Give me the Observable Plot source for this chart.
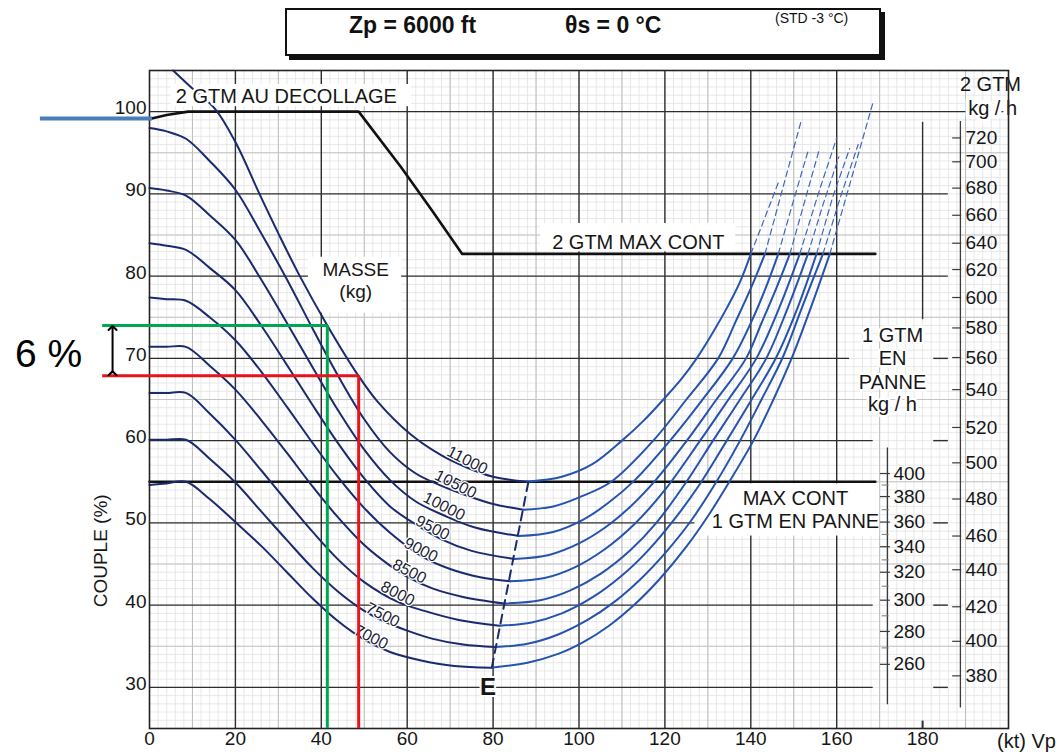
<!DOCTYPE html>
<html>
<head>
<meta charset="utf-8">
<script src="https://cdn.jsdelivr.net/npm/d3@7"></script>
<script src="https://cdn.jsdelivr.net/npm/@observablehq/plot@0.6"></script>
<style>
  html,body{margin:0;padding:0;background:#fff;}
  #wrap{position:relative;width:1059px;height:754px;overflow:hidden;font-family:"Liberation Sans",Arial,Helvetica,sans-serif;color:#111;}
  #chart{position:absolute;left:0;top:0;}
  #title{position:absolute;left:285px;top:8px;width:592px;height:44px;border:2px solid #111;box-shadow:4px 4px 0 #111;background:#fff;}
  #title span{position:absolute;white-space:nowrap;}
  .t1{left:62px;top:2px;font-size:23px;font-weight:bold;}
  .t2{left:278px;top:2px;font-size:23px;font-weight:bold;}
  .t3{left:488px;top:0px;font-size:14px;}
</style>
</head>
<body>
<div id="wrap">
  <div id="chart"></div>
  <div id="title"><span class="t1">Zp = 6000 ft</span><span class="t2">θs = 0 °C</span><span class="t3">(STD -3 °C)</span></div>
</div>
<script>
// ---------- data ----------
const xTicks = [0, 20, 40, 60, 80, 100, 120, 140, 160, 180];
const yTicks = [30, 40, 50, 60, 70, 80, 90, 100];
const masses = [7000, 7500, 8000, 8500, 9000, 9500, 10000, 10500, 11000];

// torque (%) vs true airspeed (kt), one array per mass (kg)
const curve7000 = [[0,54.6],[4,54.8],[8.5,55.0],[14,52.9],[20,50.1],[26,47.2],[32,44.0],[38,40.8],[44,38.0],[50,35.8],[56,34.3],[63,33.3],[71,32.6],[79.5,32.4],[88,33.0],[95.3,34.1],[101,35.5],[107,37.5],[113,40.1],[119,43.3],[125,47.1],[130,50.8],[135,55],[140.6,60],[145,64.7],[149.5,70],[154,76.2],[158.4,82.7]];
const curve7500 = [[0,60.1],[4,60.1],[8.5,60.1],[14,57.8],[20,54.9],[26,51.4],[32,47.9],[38,44.5],[44,41.6],[50,39.3],[54.3,38.1],[60,36.9],[66,35.9],[73,35.2],[80.5,34.9],[88,35.3],[95,36.4],[102,38.2],[108,40.3],[114,43.0],[120,46.3],[126,50.2],[132,55.0],[137.5,60],[142.5,65],[147.5,70.2],[152,76.3],[156.8,82.7]];
const curve8000 = [[0,65.8],[4,65.8],[8.5,65.8],[14,63.3],[20,60.1],[26,56.4],[32,52.6],[38,48.9],[44,45.5],[50,42.8],[57.8,40.4],[64,39.3],[72,38.2],[81.5,37.5],[89,37.9],[96,39.0],[103,40.9],[110,43.6],[116,46.6],[122,50.3],[128,54.6],[134.4,60],[140.2,65],[146,70.2],[151,76.3],[155.3,82.7]];
const curve8500 = [[0,71.4],[4,71.4],[8.5,71.4],[14,69.1],[20,66.2],[26,62.5],[32,58.5],[38,54.4],[44,50.6],[50,47.3],[56,44.8],[60.5,43.3],[66,42.0],[73,41.0],[82.5,40.2],[91,40.6],[98,41.8],[105,43.8],[112,46.7],[118,50.0],[124.5,54.6],[131.2,60],[137.5,65],[143.6,70],[148.5,76],[153.3,82.7]];
const curve9000 = [[0,77.4],[4,77.2],[8.5,77.0],[14,75.0],[20,72.2],[26,68.4],[32,64.1],[38,59.7],[44,55.5],[50,51.8],[56,48.8],[63.2,46.0],[70,44.4],[77,43.4],[84,42.9],[92,43.3],[99,44.6],[106,46.8],[113,49.9],[120,54.0],[128.2,60],[134.8,65],[141.3,70],[146.5,76],[151.4,82.7]];
const curve9500 = [[0,84.0],[4,83.7],[8.5,83.2],[14,81.0],[20,78.3],[26,74.0],[32,69.2],[38,64.3],[44,59.6],[50,55.4],[56,52.0],[62,49.8],[68,48.0],[75,46.6],[85,45.6],[93,46.1],[100,47.5],[106,49.4],[112,52.0],[118,55.3],[125.1,60],[132,65],[138.9,70],[142.5,74.3],[146,78.6],[149.1,82.7]];
const curve10000 = [[0,90.7],[4,90.4],[8.5,89.8],[14,87.4],[20,84.4],[26,79.6],[32,74.3],[38,68.9],[44,63.6],[50,58.9],[56,55.2],[62,52.6],[68.6,50.9],[76,49.4],[86,48.4],[94,48.9],[101,50.4],[107,52.5],[113,55.2],[121.2,60],[128.5,64.8],[135.8,70],[140,74.3],[143.5,78.6],[146.4,82.7]];
const curve10500 = [[0,98.0],[4,97.6],[8.5,96.7],[14,94.0],[20,90.5],[26,85.2],[32,79.6],[38,73.6],[44,67.8],[50,62.6],[56,58.6],[62,56.0],[68,54.5],[74,53.3],[80,52.3],[87,51.6],[94,52.0],[100,53.1],[107.5,55],[117.3,60],[125,65.0],[132.4,70],[136.5,74.5],[140,78.5],[143.3,82.7]];
const curve11000 = [[5.5,105],[10,102.8],[15.3,100.3],[20,96.3],[25.6,90],[30,85.2],[35,80.0],[41.3,74.1],[48.5,68.0],[53,64.8],[60.7,60.8],[68,58.2],[74,56.7],[80,55.6],[88,55.0],[96,55.6],[103,57.1],[110,60],[115,62.4],[120,65.2],[124,67.6],[127.4,70],[131,73.0],[134.5,76.2],[137.5,79.3],[140,82.7]];

// dashed continuations above the 2-engine max-continuous limit
const ext7000 = [[158.4,82.7],[163.5,92],[168.5,101.2]];
const ext7500 = [[156.8,82.7],[160.8,89.5],[165,96]];
const ext8000 = [[155.3,82.7],[159,89.5],[163,95.5]];
const ext8500 = [[153.3,82.7],[157,89],[160.5,94.5]];
const ext9000 = [[151.4,82.7],[155.7,90],[160,96.8]];
const ext9500 = [[149.1,82.7],[152.5,89],[156,95.5]];
const ext10000 = [[146.4,82.7],[150,89.3],[153.5,95.5]];
const ext10500 = [[143.3,82.7],[147.5,90.8],[151.8,99.0]];
const ext11000 = [[140,82.7],[143.2,87],[146.5,91.5]];

// point on each curve where its mass label sits
const massLabelAt = [[51.6,36.1],[54.3,38.8],[57.8,41.4],[60.5,44.1],[63.2,46.7],[65.9,49.4],[68.6,52.0],[71.3,54.7],[74.0,57.6]];

// locus of endurance speed "E"
const eLine = [[79.7,32.4],[88.3,55.2]];

// limits
const takeoffLimit = [[0,99.1],[4,99.6],[9,100],[48.7,100],[58.5,93.3],[65.9,87.9],[72.8,82.7],[169,82.7]];
const oeiMaxCont = [[0,55],[169,55]];

// fuel flow scales (kg/h) and the torque level they sit at
const fuel2Labels = [720,700,680,660,640,620,600,580,560,540,520,500,480,460,440,420,400,380];
const fuel2At = [96.8,93.9,90.7,87.4,84.0,80.8,77.4,73.7,70.1,66.2,61.6,57.3,52.9,48.4,44.3,39.8,35.6,31.4];
const fuel1Labels = [400,380,360,340,320,300,280,260];
const fuel1At = [56.0,53.2,50.1,47.1,44.0,40.6,36.8,32.8];
const fuel1MinorAt = [54.6,51.6,48.6,45.5,42.3,38.7,34.8];

// reading annotations
const readGreen = [41.4, 74.0];
const readRed = [48.7, 67.9];

// ---------- build ----------
const F = "Liberation Sans, Arial, Helvetica, sans-serif";
const ink = "#161616";
const navy = "#1b2a6e";
const brightBlue = "#2553ad";

const curves = [curve7000,curve7500,curve8000,curve8500,curve9000,curve9500,curve10000,curve10500,curve11000];
const exts = [ext7000,ext7500,ext8000,ext8500,ext9000,ext9500,ext10000,ext10500,ext11000];

const leftRows = [], rightRows = [];
masses.forEach((m, i) => {
  const pts = curves[i];
  let iMin = 0;
  pts.forEach((p, j) => { if (p[1] < pts[iMin][1]) iMin = j; });
  pts.forEach((p, j) => {
    if (j <= iMin) leftRows.push({m, x: p[0], y: p[1]});
    if (j >= iMin) rightRows.push({m, x: p[0], y: p[1]});
  });
});
const extRows = masses.flatMap((m, i) => exts[i].map(([x, y]) => ({m, x, y})));
const toRows = a => a.map(([x, y]) => ({x, y}));

const majorRows = [30, 40, 50, 60, 70, 80, 90, 100];
const majorRowEnd = [168.5, 168.5, 168.5, 168.5, 163, 186, 186, 200];
const majorH = majorRows.map((y, i) => ({y, x1: 0, x2: majorRowEnd[i]}));
const stubH = [30, 40, 50, 60, 70].map(y => ({y, x1: 182.6, x2: 186}));

const chart = Plot.plot({
  width: 1059, height: 754,
  marginLeft: 149, marginRight: 51, marginTop: 70, marginBottom: 26,
  x: {domain: [0, 200]},
  y: {domain: [25, 105]},
  style: {fontFamily: F, color: ink, background: "white", overflow: "visible"},
  marks: [
    // fine grid
    Plot.ruleX(d3.range(0, 201, 2), {y1: 25, y2: 105, stroke: "#e2e2e2", strokeWidth: 0.8}),
    Plot.ruleY(d3.range(25, 106, 1), {x1: 0, x2: 200, stroke: "#e2e2e2", strokeWidth: 0.8}),
    Plot.ruleX(d3.range(10, 200, 20), {y1: 25, y2: 105, stroke: "#bdbdbd", strokeWidth: 1}),
    Plot.ruleY(d3.range(35, 100, 10), {x1: 0, x2: 200, stroke: "#c4c4c4", strokeWidth: 1}),
    // major grid
    Plot.ruleX([20, 40, 60, 80, 100, 120, 140, 160], {y1: 25, y2: 105, stroke: "#2e2e2e", strokeWidth: 1.4}),
    Plot.ruleX([180], {y1: 74.7, y2: 98.7, stroke: "#2e2e2e", strokeWidth: 1.4}),
    Plot.ruleX([180], {y1: 25, y2: 25.9, stroke: "#2e2e2e", strokeWidth: 2}),
    Plot.ruleY(majorH, {y: "y", x1: "x1", x2: "x2", stroke: "#2e2e2e", strokeWidth: 1.4}),
    Plot.ruleY(stubH, {y: "y", x1: "x1", x2: "x2", stroke: "#2e2e2e", strokeWidth: 1.4}),

    // white label boxes
    Plot.rect([0], {x1: 37, x2: 58.7, y1: 75.5, y2: 82.3, fill: "white"}),
    Plot.rect([0], {x1: 91, x2: 136.5, y1: 82.95, y2: 86.4, fill: "white"}),
    Plot.rect([0], {x1: 127, x2: 170, y1: 48.4, y2: 54.75, fill: "white"}),
    Plot.rect([0], {x1: 5, x2: 61, y1: 100.6, y2: 103.3, fill: "white"}),

    // limit lines
    Plot.line(toRows(takeoffLimit), {x: "x", y: "y", stroke: "#111", strokeWidth: 2.6}),
    Plot.line(toRows(oeiMaxCont), {x: "x", y: "y", stroke: "#111", strokeWidth: 2.6}),

    // mass curves
    Plot.line(extRows, {x: "x", y: "y", z: "m", stroke: "#3d66bd", strokeWidth: 1.2, strokeDasharray: "6,4"}),
    Plot.line(leftRows, {x: "x", y: "y", z: "m", stroke: navy, strokeWidth: 2, curve: "catmull-rom"}),
    Plot.line(rightRows, {x: "x", y: "y", z: "m", stroke: brightBlue, strokeWidth: 2, curve: "catmull-rom"}),
    Plot.line(toRows(eLine), {x: "x", y: "y", stroke: navy, strokeWidth: 2, strokeDasharray: "9,6"}),

    // mass labels
    Plot.text(masses, {
      x: (d, i) => massLabelAt[i][0], y: (d, i) => massLabelAt[i][1],
      text: d => String(d), rotate: 27, fontSize: 16, fill: "#1a1d35",
      stroke: "white", strokeWidth: 2.5
    }),

    // right-hand fuel-flow scales
    Plot.ruleX([188.8], {y1: 27.5, y2: 98.8, stroke: "#3a3a3a", strokeWidth: 1.3}),
    Plot.ruleY(fuel2At, {x1: 187.0, x2: 189.1, stroke: "#3a3a3a", strokeWidth: 1.2}),
    Plot.text(fuel2Labels, {x: 190.0, y: (d, i) => fuel2At[i], text: d => String(d), textAnchor: "start", fontSize: 19, fill: ink}),
    Plot.ruleX([171.8], {y1: 27.9, y2: 59.1, stroke: "#3a3a3a", strokeWidth: 1.3}),
    Plot.ruleY(fuel1At, {x1: 170.2, x2: 172.5, stroke: "#3a3a3a", strokeWidth: 1.2}),
    Plot.ruleY(fuel1MinorAt, {x1: 170.6, x2: 172.2, stroke: "#777", strokeWidth: 1}),
    Plot.text(fuel1Labels, {x: 173.2, y: (d, i) => fuel1At[i], text: d => String(d), textAnchor: "start", fontSize: 19, fill: ink}),

    // texts
    Plot.text(["2 GTM AU DECOLLAGE"], {x: 6.1, y: 101.8, textAnchor: "start", fontSize: 20, fill: ink, stroke: "white", strokeWidth: 5}),
    Plot.text(["2 GTM MAX CONT"], {x: 113.8, y: 84.1, fontSize: 20, fill: ink}),
    Plot.text(["MASSE"], {x: 48, y: 80.8, fontSize: 19, fill: ink}),
    Plot.text(["(kg)"], {x: 48, y: 78.1, fontSize: 19, fill: ink}),
    Plot.text(["MAX CONT"], {x: 150.4, y: 53.0, fontSize: 20, fill: ink}),
    Plot.text(["1 GTM EN PANNE"], {x: 150.4, y: 50.1, fontSize: 20, fill: ink}),
    Plot.text(["2 GTM"], {x: 195.8, y: 103.3, fontSize: 20, fill: ink}),
    Plot.text(["kg / h"], {x: 196.3, y: 100.4, fontSize: 20, fill: ink, stroke: "white", strokeWidth: 8}),
    Plot.text(["1 GTM"], {x: 173.0, y: 72.8, fontSize: 20, fill: ink, stroke: "white", strokeWidth: 5}),
    Plot.text(["EN"], {x: 173.0, y: 69.95, fontSize: 20, fill: ink, stroke: "white", strokeWidth: 5}),
    Plot.text(["PANNE"], {x: 173.0, y: 67.1, fontSize: 20, fill: ink, stroke: "white", strokeWidth: 5}),
    Plot.text(["kg / h"], {x: 173.0, y: 64.4, fontSize: 20, fill: ink, stroke: "white", strokeWidth: 5}),
    Plot.text(["E"], {x: 78.8, y: 30.0, fontSize: 24, fontWeight: "bold", fill: ink, stroke: "white", strokeWidth: 4}),
    Plot.text(["COUPLE (%)"], {x: -11.4, y: 46.6, rotate: -90, fontSize: 19, fill: ink}),
    Plot.text(["(kt) Vp"], {x: 204.2, y: 23.4, fontSize: 20, fill: ink}),

    // axes
    Plot.axisX(xTicks, {tickSize: 0, tickPadding: 3, fontSize: 19, label: null}),
    Plot.axisY(yTicks, {tickSize: 0, tickPadding: 3, fontSize: 19, label: null, dy: -3.5}),
    Plot.frame({stroke: "#222", strokeWidth: 1.6}),

    // reading annotations
    Plot.ruleY([99.16], {x1: -25.4, x2: 0.7, stroke: "#4a7ebb", strokeWidth: 4}),
    Plot.ruleY([readGreen[1]], {x1: -10.9, x2: readGreen[0], stroke: "#00a651", strokeWidth: 3}),
    Plot.ruleX([readGreen[0]], {y1: 25, y2: readGreen[1], stroke: "#00a651", strokeWidth: 3}),
    Plot.ruleY([readRed[1]], {x1: -10.9, x2: readRed[0], stroke: "#e8141c", strokeWidth: 3}),
    Plot.ruleX([readRed[0]], {y1: 25, y2: readRed[1], stroke: "#e8141c", strokeWidth: 3}),
    Plot.link([0], {x1: -8.6, x2: -8.6, y1: readRed[1] + 0.3, y2: readGreen[1] - 0.3, stroke: "#000", strokeWidth: 2, markerStart: "arrow", markerEnd: "arrow"}),
    Plot.text(["6 %"], {x: -23.5, y: 70.5, fontSize: 39, fill: "#000", fontFamily: "Liberation Sans, Arial, sans-serif"})
  ]
});
document.getElementById("chart").append(chart);
</script>
</body>
</html>
